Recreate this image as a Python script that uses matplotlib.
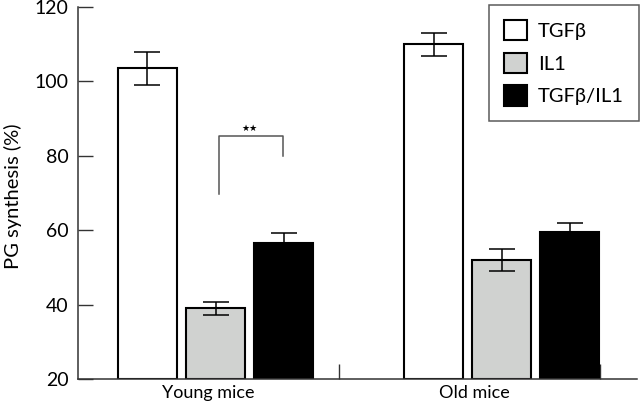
import matplotlib
matplotlib.use("Agg")
import matplotlib.pyplot as plt
import numpy as np

groups = ["Young mice", "Old mice"]
series = ["TGFβ", "IL1", "TGFβ/IL1"]
values = {
    "TGFβ": [103.5, 110.0],
    "IL1": [39.0, 52.0],
    "TGFβ/IL1": [56.5, 59.4],
}
errors = {
    "TGFβ": [4.4, 3.1],
    "IL1": [1.7, 3.0],
    "TGFβ/IL1": [2.8, 2.4],
}
colors = {"TGFβ": "white", "IL1": "#d0d2d0", "TGFβ/IL1": "black"}
yticks = [20, 40, 60, 80, 100, 120]

plt.rcParams['font.family'] = ['Lato', 'DejaVu Sans']
fig = plt.figure(figsize=(6.4, 4.07), dpi=100)
ax = fig.add_axes([0.1219, 0.0688, 0.873, 0.9142])

group_centers = np.array([0.527, 1.623])
offsets = [-0.261, 0.0, 0.261]
width = 0.226
for s, off in zip(series, offsets):
    ax.bar(group_centers + off, np.array(values[s]) - 20, bottom=20, width=width,
           color=colors[s], edgecolor="black", linewidth=1.5, label=s, zorder=2)
    ax.errorbar(group_centers + off, values[s], yerr=errors[s], fmt="none",
                ecolor="black", elinewidth=1.1, capsize=9.5, capthick=1.1, zorder=3)

# significance bracket
bx = [0.539, 0.539, 0.784, 0.784]
by = [69.7, 85.3, 85.3, 79.9]
ax.plot(bx, by, color="#555555", linewidth=1.1, zorder=3)
ax.text((bx[0] + bx[-1]) / 2 - 0.005, 86.2, "★★", ha="center", va="bottom", fontsize=6.5,
        family=["DejaVu Sans"])

ax.set_xlim(0, 2.14)
ax.set_ylim(20, 120)
ax.set_yticks(yticks)
ax.set_yticklabels([str(t) for t in yticks], fontsize=14)
ax.set_xticks([1, 2])
ax.set_xticklabels([])
ax.tick_params(axis="y", direction="in", length=10.5, width=1, color="#333333", pad=7)
ax.tick_params(axis="x", direction="in", length=11, width=1, color="#333333")
for sp in ["top", "right"]:
    ax.spines[sp].set_visible(False)
for sp in ["left", "bottom"]:
    ax.spines[sp].set_color("#333333")
    ax.spines[sp].set_linewidth(1.1)

ax.set_ylabel("PG synthesis (%)", fontsize=14.5)
ax.yaxis.set_label_coords(-0.1, 0.49)
for gx, g in zip([0.497, 1.52], groups):
    ax.annotate(g, xy=(gx, 0), xycoords=ax.get_xaxis_transform(),
                xytext=(0, -4), textcoords="offset points",
                ha="center", va="top", fontsize=13)

leg = ax.legend(loc="upper right", bbox_to_anchor=(1.004, 1.006), fontsize=14.5,
                frameon=True, fancybox=False, edgecolor="#333333",
                handlelength=1.15, handleheight=1.2, handletextpad=0.55,
                borderpad=0.75, labelspacing=0.6, borderaxespad=0.0)
leg.get_frame().set_linewidth(1.1)

fig.savefig("out.png", dpi=100, facecolor="white")
